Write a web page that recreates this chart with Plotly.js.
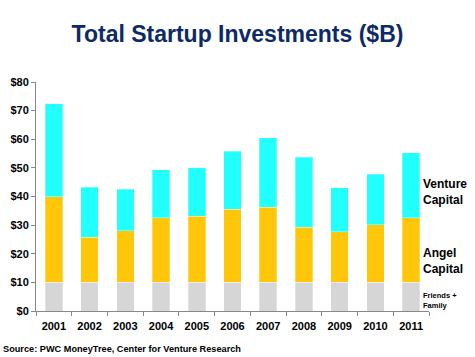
<!DOCTYPE html>
<html><head><meta charset="utf-8">
<script src="https://cdn.plot.ly/plotly-3.0.1.min.js"></script>
<style>body{margin:0;padding:0;background:#fff}#chart{width:475px;height:357px}</style>
</head><body><div id="chart"></div>
<script>
const years = ['2001','2002','2003','2004','2005','2006','2007','2008','2009','2010','2011'];
const friendsFamily = [10,10,10,10,10,10,10,10,10,10,10];
const angelCapital = [30,15.8,18,22.6,23.1,25.6,26.3,19.3,17.7,20.2,22.6];
const ventureCapital = [32.4,17.4,14.5,16.7,16.9,20.2,24.3,24.4,15.3,17.6,22.7];
const yTickVals = [0,10,20,30,40,50,60,70,80];
const yTickText = ['$0','$10','$20','$30','$40','$50','$60','$70','$80'];

const font = 'Liberation Sans, Arial, sans-serif';
const mk = (name, y, color) => ({
  type:'bar', name, x:years, y,
  marker:{color, line:{color:'rgba(255,255,255,0.6)', width:0.5}},
  width:0.49, hoverinfo:'y'
});
const data = [
  mk('Friends + Family', friendsFamily, '#D6D6D6'),
  mk('Angel Capital', angelCapital, '#FFC60A'),
  mk('Venture Capital', ventureCapital, '#22FFFF')
];
const layout = {
  width:475, height:357,
  margin:{l:36, r:46, t:82, b:46},
  barmode:'stack', showlegend:false,
  paper_bgcolor:'#fff', plot_bgcolor:'#fff',
  font:{family:font, color:'#000'},
  title:{text:'<b>Total Startup Investments ($B)</b>', font:{family:font, size:23, color:'#0E2A66'}, x:0.5, xanchor:'center', y:0.905, yanchor:'middle'},
  xaxis:{type:'category', showline:true, linecolor:'#888', linewidth:1, ticks:'outside', ticklen:4, tickcolor:'#888', tickson:'boundaries', ticklabelstandoff:5, showgrid:false, tickangle:0, tickfont:{family:font, size:11, color:'#000', weight:'bold'}},
  yaxis:{range:[0,80], tickvals:yTickVals, ticktext:yTickText, showline:true, linecolor:'#888', linewidth:1, ticks:'outside', ticklen:4, tickcolor:'#888', showgrid:false, zeroline:false, tickfont:{family:font, size:11, color:'#000', weight:'bold'}},
  annotations:[
    {xref:'paper', yref:'paper', x:1.0, y:0.52, xshift:-8, xanchor:'left', yanchor:'middle', align:'left', showarrow:false, text:'<b>Venture<br>Capital</b>', font:{family:font, size:12, color:'#000'}},
    {xref:'paper', yref:'paper', x:1.0, y:0.218, xshift:-8, xanchor:'left', yanchor:'middle', align:'left', showarrow:false, text:'<b>Angel<br>Capital</b>', font:{family:font, size:12, color:'#000'}},
    {xref:'paper', yref:'paper', x:1.0, y:0.048, xshift:-8, xanchor:'left', yanchor:'middle', align:'left', showarrow:false, text:'<b>Friends +<br>Family</b>', font:{family:font, size:7.5, color:'#000'}},
    {xref:'paper', yref:'paper', x:-0.09, y:-0.165, xanchor:'left', yanchor:'middle', align:'left', showarrow:false, text:'<b>Source: PWC MoneyTree, Center for Venture Research</b>', font:{family:font, size:9.2, color:'#000'}}
  ]
};
Plotly.newPlot('chart', data, layout, {displayModeBar:false, staticPlot:true});
</script></body></html>
